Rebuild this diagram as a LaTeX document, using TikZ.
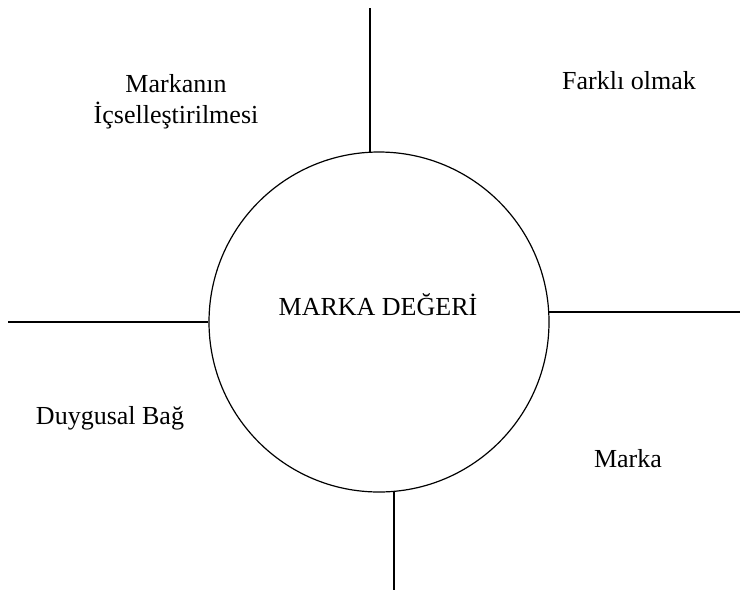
\documentclass[tikz,border=0pt]{standalone}
\usepackage{fontspec}
\setmainfont{Liberation Serif}
\usetikzlibrary{positioning}

\begin{document}
\begin{tikzpicture}[
    x=0.75pt,y=-0.75pt,
    hub/.style={circle,draw,line width=0.9pt,minimum size=255pt,inner sep=0pt},
    factor/.style={align=center,font=\fontsize{19.5}{23}\selectfont},
    spoke/.style={draw,line width=0.9pt}
]
\useasboundingbox (0,0) rectangle (741,590);

\node[hub] (deger) at (379,322) {};
\node[factor] (degertxt) at (378,305) {MARKA DEĞERİ};

\node[factor] (ic) at (176,102) {Markanın\\İçselleştirilmesi};
\node[factor] (farkli) at (629,81) {Farklı olmak};
\node[factor] (duygu) at (110,418) {Duygusal Bağ};
\node[factor] (marka) at (628,459) {Marka};

% free ends of the four lines
\coordinate (topend) at (370,8);
\coordinate (leftend) at (8,322);
\coordinate (rightend) at (740,312);
\coordinate (bottomend) at (394,590);

\draw[spoke] (topend) -- (topend |- deger.93);
\draw[spoke] (leftend) -- (deger.180);
\draw[spoke] (rightend -| deger.3.4) -- (rightend);
\draw[spoke] (bottomend |- deger.-85) -- (bottomend);
\end{tikzpicture}
\end{document}
